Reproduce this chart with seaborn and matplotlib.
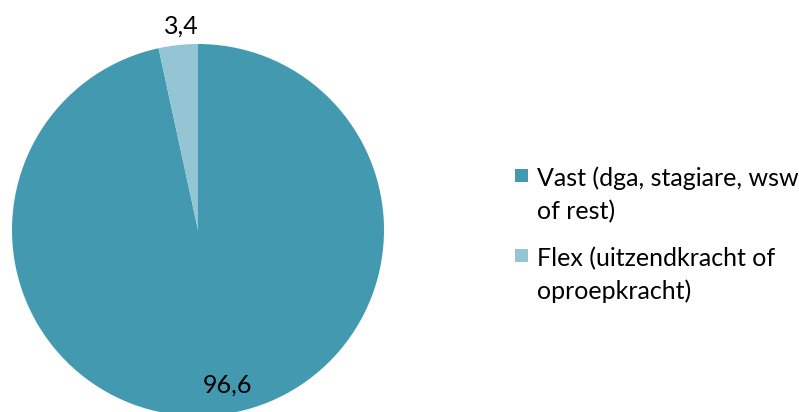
import matplotlib

matplotlib.use("Agg")
import matplotlib.pyplot as plt  # noqa: E402
from matplotlib.patches import Rectangle  # noqa: E402
import numpy as np  # noqa: E402
import seaborn as sns  # noqa: E402

categories = ["Vast (dga, stagiare, wsw\nof rest)", "Flex (uitzendkracht of\noproepkracht)"]
values = [96.6, 3.4]
value_labels = ["96,6", "3,4"]
colors = ["#4399B0", "#93C5D5"]

sns.set_theme(style="white")
plt.rcParams["font.family"] = ["Lato", "DejaVu Sans"]

W, H = 799, 412
fig = plt.figure(figsize=(W / 100, H / 100), dpi=100)
fig.patch.set_facecolor("white")
ax = fig.add_axes([12 / W, -4 / H, 372 / W, 372 / H])

wedges, _ = ax.pie(values, colors=colors, startangle=90, counterclock=False,
                   wedgeprops={"linewidth": 0})
ax.set_xlim(-1, 1)
ax.set_ylim(-1, 1)
ax.set_aspect("equal")
ax.axis("off")

label_r = [0.84, 1.1]
for w, lab, r in zip(wedges, value_labels, label_r):
    ang = np.deg2rad((w.theta1 + w.theta2) / 2)
    ax.text(r * np.cos(ang) + (0.07 if r < 1 else 0.03), r * np.sin(ang), lab,
            ha="center", va="center", fontsize=18, color="black", clip_on=False)

# legend drawn by hand so the swatch sits on the first line, like the original
for i, (cat, col) in enumerate(zip(categories, colors)):
    base = 183 + i * 80
    fig.patches.append(Rectangle((515 / W, 1 - (base - 1) / H), 13 / W, 13 / H,
                                 transform=fig.transFigure, facecolor=col,
                                 edgecolor="none"))
    # baseline alignment refers to the last line, which sits one line below
    fig.text(537 / W, 1 - (base + 36) / H, cat, ha="left", va="baseline",
             fontsize=18, color="black", linespacing=1.48)

fig.savefig("out.png", dpi=100)
